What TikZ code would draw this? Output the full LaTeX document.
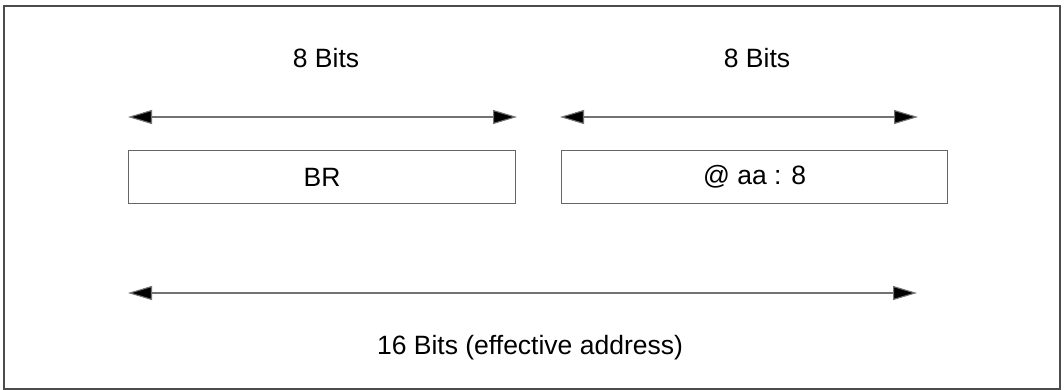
\documentclass[tikz,border=0pt]{standalone}
\usepackage{fontspec}
\setmainfont{Liberation Sans}
\usetikzlibrary{arrows.meta}
\begin{document}
\begin{tikzpicture}[x=1pt,y=-1pt,
  field/.style={draw=black!60,line width=1.2pt,minimum height=53pt,inner sep=0pt,anchor=north west},
  dim/.style={draw=black!55,line width=1.1pt,{Triangle[length=24pt,width=14pt,fill=black]}-{Triangle[length=24pt,width=14pt,fill=black]}},
  lbl/.style={font=\fontsize{26.5}{30}\selectfont,inner sep=0pt}]
\useasboundingbox (0,0) rectangle (1064,390);
\draw[black!70,line width=1.4pt] (4,6) rectangle (1060,389);
% fields
\node[field,minimum width=387pt] (br) at (128,150) {};
\node[lbl] (brt) at (br.center) {BR};
\node[field,minimum width=386pt] (aa) at (561,150) {};
\node[lbl] (aat) at (aa.center) {@ aa : 8};
% dimension coordinates
\coordinate (a1l) at (128,117);
\coordinate (a1r) at (517,117);
\coordinate (a2l) at (560,117);
\coordinate (a2r) at (918,117);
\coordinate (a3l) at (128,293);
\coordinate (a3r) at (917,293);
\draw[dim] (a1l) -- (a1r);
\draw[dim] (a2l) -- (a2r);
\draw[dim] (a3l) -- (a3r);
\node[lbl] (t1) at (326,58) {8 Bits};
\node[lbl] (t2) at (757,58) {8 Bits};
\node[lbl] (t3) at (530,348) {16 Bits (effective address)};
\end{tikzpicture}
\end{document}
